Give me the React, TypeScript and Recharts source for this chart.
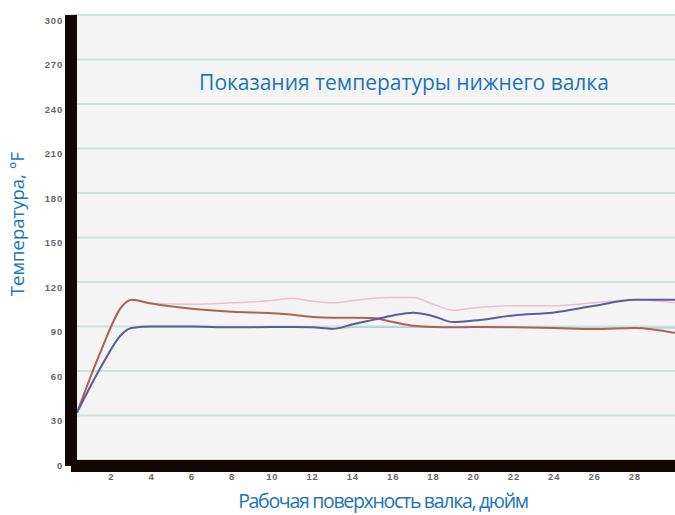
import React from 'react';
import { LineChart, Line, XAxis, YAxis, CartesianGrid } from 'recharts';

const inches = [0.3, 1.5, 2.5, 3, 4, 6, 8, 10, 11, 12, 13, 14, 15, 16, 17, 18, 19, 20, 22, 24, 26, 28, 30];
const redSeries = [32, 74, 103, 108, 105.5, 102, 100, 99, 98, 96.5, 96, 96, 95.7, 93, 90.5, 89.7, 89.5, 89.7, 89.5, 89, 88.3, 89, 85.6];
const blueSeries = [32, 63, 84.5, 89, 90, 90, 89.5, 89.7, 89.7, 89.5, 88.5, 91.5, 94.5, 97.5, 99.3, 97, 93, 94, 97.5, 99.5, 104, 108, 108];
const pinkSeries = [32, 74, 103, 108, 105.5, 105, 106, 107.5, 109, 107, 106, 107.5, 109, 109.5, 109.5, 105, 101, 102.5, 104, 104, 106, 108, 106];
const tealSeries = [32, 63, 84.5, 89, 90, 90, 89.5, 89.7, 89.7, 89.5, 88.5, 89.5, 89.5, 89.5, 89.5, 89.5, 89.5, 89.5, 89.5, 89.5, 89, 89, 89];

const xTicks = [2, 4, 6, 8, 10, 12, 14, 16, 18, 20, 22, 24, 26, 28];
const yTicks = [0, 30, 60, 90, 120, 150, 180, 210, 240, 270, 300];

const title = 'Показания температуры нижнего валка';
const yTitle = 'Температура, °F';
const xTitle = 'Рабочая поверхность валка, дюйм';

const data = inches.map((x, i) => ({
  x,
  red: redSeries[i],
  blue: blueSeries[i],
  pink: pinkSeries[i],
  teal: tealSeries[i],
}));

const YTick = (props: any) => {
  const { x, y, payload } = props;
  return (
    <text x={x} y={y + 8.5} textAnchor="end" fontSize={9.5} fontFamily="Arial, Liberation Sans" fill="#666" fontWeight="bold" letterSpacing={0.8}>
      {payload.value}
    </text>
  );
};

const XTick = (props: any) => {
  const { x, y, payload } = props;
  return (
    <text x={x} y={y + 12} textAnchor="middle" fontSize={9.5} fontFamily="Arial, Liberation Sans" fill="#666" fontWeight="bold" letterSpacing={0.8}>
      {payload.value}
    </text>
  );
};

export default function App() {
  return (
    <div style={{ position: 'absolute', left: 0, top: 0, width: 675, height: 515, background: '#ffffff', overflow: 'hidden' }}>
      <LineChart width={675} height={515} data={data} margin={{ top: 15, right: 0, bottom: 24, left: 0 }}>
        <CartesianGrid vertical={false} stroke="#cde2da" strokeWidth={2} fill="#f4f4f4" />
        <XAxis
          dataKey="x"
          type="number"
          domain={[0, 30]}
          ticks={xTicks}
          height={25}
          tickLine={false}
          tickSize={0}
          tick={<XTick />}
          axisLine={{ stroke: '#120808', strokeWidth: 12 }}
          allowDataOverflow
        />
        <YAxis
          type="number"
          domain={[-4, 300]}
          ticks={yTicks}
          width={71}
          tickLine={false}
          tickSize={0}
          tickMargin={8}
          tick={<YTick />}
          axisLine={{ stroke: '#120808', strokeWidth: 12 }}
          allowDataOverflow
        />
        <Line type="monotone" dataKey="teal" stroke="#a9d8d4" strokeWidth={1.5} dot={false} isAnimationActive={false} />
        <Line type="monotone" dataKey="pink" stroke="#e6c4cf" strokeWidth={1.5} dot={false} isAnimationActive={false} />
        <Line type="monotone" dataKey="red" stroke="#b0605c" strokeWidth={2} dot={false} isAnimationActive={false} />
        <Line type="monotone" dataKey="blue" stroke="#5c5c98" strokeWidth={2} dot={false} isAnimationActive={false} />
      </LineChart>
      <div style={{ position: 'absolute', left: 404, top: 82, transform: 'translate(-50%, -50%)', whiteSpace: 'nowrap', fontFamily: '"Open Sans", sans-serif', fontSize: 21, color: '#1c74b8' }}>
        {title}
      </div>
      <div style={{ position: 'absolute', left: 17, top: 224, transform: 'translate(-50%, -50%) rotate(-90deg)', whiteSpace: 'nowrap', fontFamily: '"Open Sans", sans-serif', fontSize: 18.5, lineHeight: '24px', color: '#1c74b8' }}>
        {yTitle}
      </div>
      <div style={{ position: 'absolute', left: 383, top: 501, transform: 'translate(-50%, -50%)', whiteSpace: 'nowrap', fontFamily: '"Open Sans", sans-serif', fontSize: 19.5, lineHeight: '24px', letterSpacing: -1.3, color: '#1c74b8' }}>
        {xTitle}
      </div>
    </div>
  );
}
